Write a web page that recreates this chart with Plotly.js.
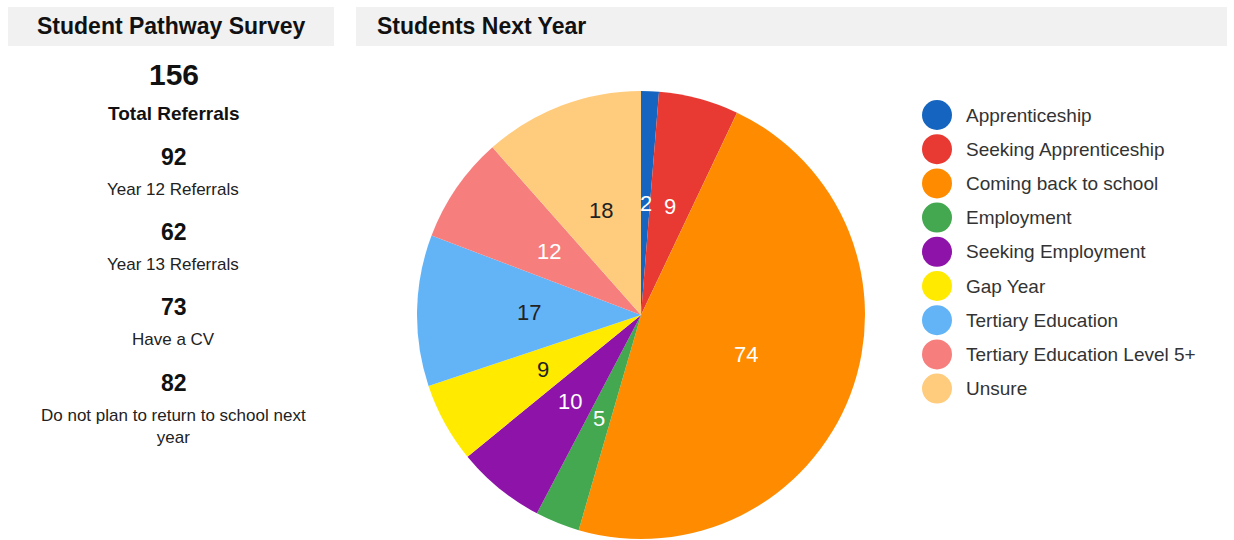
<!DOCTYPE html>
<html>
<head>
<meta charset="utf-8">
<script src="https://cdn.plot.ly/plotly-3.0.1.min.js"></script>
<style>
html,body{margin:0;padding:0;background:#fff;}
#chart{width:1234px;height:540px;}
</style>
</head>
<body>
<div id="chart"></div>
<script>
// ---- data ----
const categories = ["Apprenticeship","Seeking Apprenticeship","Coming back to school","Employment","Seeking Employment","Gap Year","Tertiary Education","Tertiary Education Level 5+","Unsure"];
const counts = [2, 9, 74, 5, 10, 9, 17, 12, 18];
const sliceColors = ["#1565C0","#E83A33","#FF8C00","#43A84F","#8E13A9","#FFEA00","#63B4F7","#F67F7E","#FFCB7D"];
const labelColors = ["#ffffff","#ffffff","#ffffff","#ffffff","#ffffff","#222222","#222222","#ffffff","#222222"];
const statValues = ["92","62","73","82"];
const statLabels = ["Year 12 Referrals","Year 13 Referrals","Have a CV","Do not plan to return to school next<br>year"];
const totalValue = "156";
const totalLabel = "Total Referrals";

const W = 1234, H = 540;
const fx = x => x / W;
const fy = y => 1 - y / H;
const FONT = "Arial, 'Liberation Sans', sans-serif";

// pie geometry (layout)
const cx = 641, cy = 315, R = 224;

const shapes = [
  {type:"rect", xref:"paper", yref:"paper", x0:fx(8), x1:fx(334), y0:fy(46), y1:fy(7), fillcolor:"#f1f1f1", line:{width:0}, layer:"below"},
  {type:"rect", xref:"paper", yref:"paper", x0:fx(356), x1:fx(1227), y0:fy(46), y1:fy(7), fillcolor:"#f1f1f1", line:{width:0}, layer:"below"}
];

const annotations = [
  {text:"<b>Student Pathway Survey</b>", x:fx(171.5), y:fy(26), xanchor:"center", yanchor:"middle", font:{size:23, color:"#111", family:FONT}},
  {text:"<b>Students Next Year</b>", x:fx(375), y:fy(26), xanchor:"left", yanchor:"middle", font:{size:23, color:"#111", family:FONT}},
  {text:"<b>"+totalValue+"</b>", x:fx(174), y:fy(74), xanchor:"center", yanchor:"middle", font:{size:30, color:"#111", family:FONT}},
  {text:"<b>"+totalLabel+"</b>", x:fx(174), y:fy(113), xanchor:"center", yanchor:"middle", font:{size:19, color:"#111", family:FONT}}
];
const statRowY = [157, 232, 307, 383];
statValues.forEach((v, i) => {
  annotations.push({text:"<b>"+v+"</b>", x:fx(174), y:fy(statRowY[i]), xanchor:"center", yanchor:"middle", font:{size:23, color:"#111", family:FONT}});
  annotations.push({text:statLabels[i], x:fx(173), y:fy(statRowY[i]+21), xanchor:"center", yanchor:"top", align:"center", font:{size:17, color:"#222", family:FONT}});
});

// custom legend (circle markers)
categories.forEach((c, i) => {
  const y = 115 + i * 34.2;
  shapes.push({type:"circle", xref:"paper", yref:"paper", x0:fx(937-15), x1:fx(937+15), y0:fy(y+15), y1:fy(y-15), fillcolor:sliceColors[i], line:{width:0}});
  annotations.push({text:c, x:fx(964), y:fy(y), xanchor:"left", yanchor:"middle", font:{size:19, color:"#333", family:FONT}});
});

// slice labels at half radius, mid-angle (from data)
const total = counts.reduce((a, b) => a + b, 0);
let cum = 0;
counts.forEach((v, i) => {
  const mid = (cum + v / 2) / total * 2 * Math.PI;
  cum += v;
  const lx = cx + 0.5 * R * Math.sin(mid);
  const ly = cy - 0.5 * R * Math.cos(mid);
  annotations.push({text:String(v), x:fx(lx), y:fy(ly), xanchor:"center", yanchor:"middle", font:{size:22, color:labelColors[i], family:FONT}});
});

annotations.forEach(a => { a.xref = "paper"; a.yref = "paper"; a.showarrow = false; });

const trace = {
  type:"pie",
  labels:categories,
  values:counts,
  sort:false,
  direction:"clockwise",
  rotation:0,
  marker:{colors:sliceColors, line:{width:0}},
  textinfo:"none",
  hoverinfo:"label+value",
  showlegend:false,
  domain:{x:[fx(cx-R), fx(cx+R)], y:[fy(cy+R), fy(cy-R)]}
};

const layout = {
  width:W, height:H,
  margin:{l:0, r:0, t:0, b:0},
  paper_bgcolor:"#ffffff",
  showlegend:false,
  shapes:shapes,
  annotations:annotations,
  font:{family:FONT}
};

Plotly.newPlot("chart", [trace], layout, {displayModeBar:false, staticPlot:true});
</script>
</body>
</html>
